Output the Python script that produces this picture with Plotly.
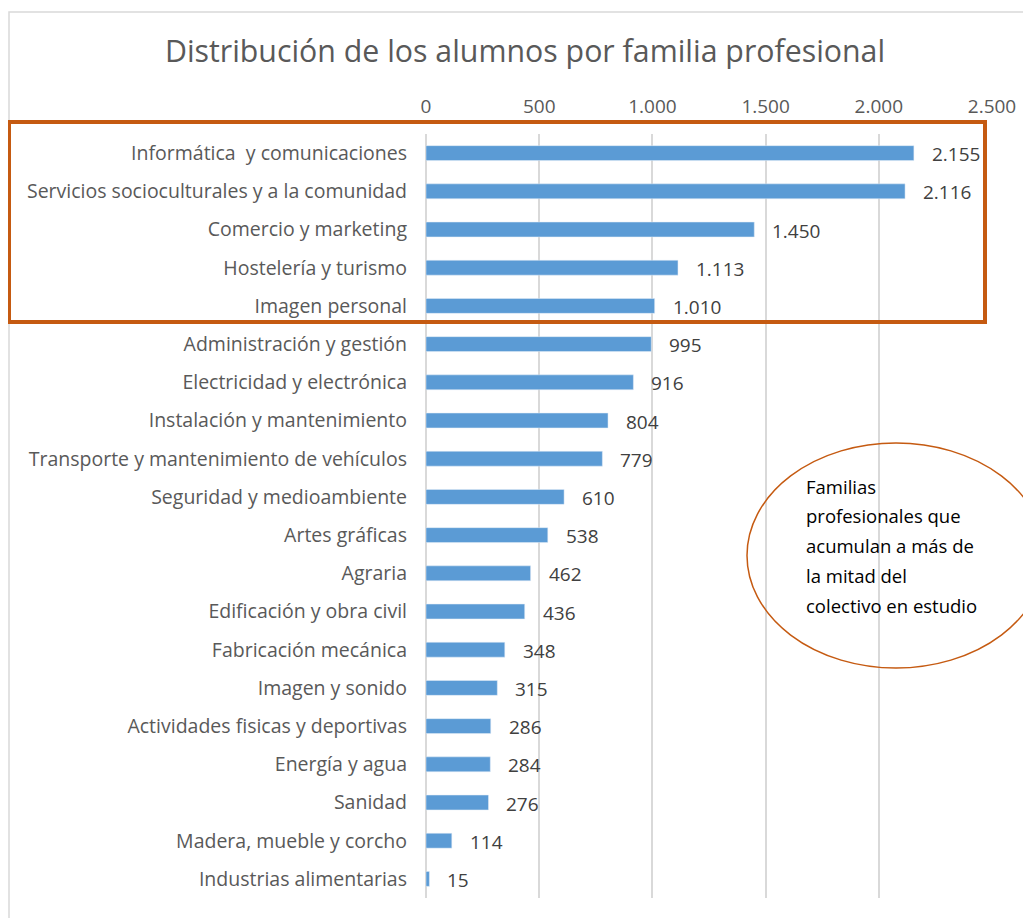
import plotly.graph_objects as go

categories = [
    "Informática  y comunicaciones",
    "Servicios socioculturales y a la comunidad",
    "Comercio y marketing",
    "Hostelería y turismo",
    "Imagen personal",
    "Administración y gestión",
    "Electricidad y electrónica",
    "Instalación y mantenimiento",
    "Transporte y mantenimiento de vehículos",
    "Seguridad y medioambiente",
    "Artes gráficas",
    "Agraria",
    "Edificación y obra civil",
    "Fabricación mecánica",
    "Imagen y sonido",
    "Actividades fisicas y deportivas",
    "Energía y agua",
    "Sanidad",
    "Madera, mueble y corcho",
    "Industrias alimentarias",
]
values = [2155, 2116, 1450, 1113, 1010, 995, 916, 804, 779, 610,
          538, 462, 436, 348, 315, 286, 284, 276, 114, 15]
tick_vals = [0, 500, 1000, 1500, 2000, 2500]
ellipse_lines = ["Familias", "profesionales que", "acumulan a más de",
                 "la mitad del", "colectivo en estudio"]

# page offset (browser body margin)
OFF = 8
W, H = 1031 - OFF, 918 - OFF
# plot area in page pixels
PL, PR, PT, PB = 426, 992, 134, 898
L, R, T, B = PL - OFF, W - (PR - OFF), PT - OFF, H - (PB - OFF)
pw, ph = W - L - R, H - T - B


def px(x):
    return (x - OFF - L) / pw


def py(y):
    return (H - B - (y - OFF)) / ph


FONT = "Open Sans"
GRAY = "#595959"
ORANGE = "#C55A11"

fig = go.Figure(go.Bar(
    x=values, y=categories, orientation="h",
    marker_color="#5B9BD5", width=0.39,
    hoverinfo="x+y",
))

annotations = []
for c, v in zip(categories, values):
    annotations.append(dict(
        x=v, y=c, xref="x", yref="y", text=f"{v:,}".replace(",", "."),
        showarrow=False, xanchor="left", xshift=16, yshift=-1,
        font=dict(family=FONT, size=19, color="#404040"),
    ))

for i, line in enumerate(ellipse_lines):
    annotations.append(dict(
        x=px(804), y=py(486 + i * 29.8), xref="paper", yref="paper",
        text=line, showarrow=False, xanchor="left", yanchor="middle",
        font=dict(family=FONT, size=18.5, color="#000000"),
    ))

shapes = [
    dict(type="rect", xref="paper", yref="paper",
         x0=px(9), x1=px(1045), y0=py(12), y1=py(935),
         line=dict(color="#D9D9D9", width=1.5), layer="below"),
    dict(type="rect", xref="paper", yref="paper",
         x0=px(9), x1=px(985), y0=py(122), y1=py(322),
         line=dict(color=ORANGE, width=4)),
    dict(type="circle", xref="paper", yref="paper",
         x0=px(747), x1=px(1045), y0=py(443), y1=py(668),
         line=dict(color=ORANGE, width=1.5)),
]

fig.update_layout(
    width=W, height=H,
    margin=dict(l=L, r=R, t=T, b=B),
    paper_bgcolor="white", plot_bgcolor="white",
    separators=",.",
    title=dict(text="Distribución de los alumnos por familia profesional",
               x=px(525), xanchor="center", xref="paper",
               y=1 - (51 - OFF) / H, yanchor="middle",
               font=dict(family=FONT, size=30.3, color=GRAY)),
    showlegend=False,
    annotations=annotations,
    shapes=shapes,
)
fig.update_xaxes(
    side="top", range=[0, 2500], tickvals=tick_vals, tickformat=",d",
    showgrid=True, gridcolor="#D9D9D9", gridwidth=1.5,
    zeroline=True, zerolinecolor="#D9D9D9", zerolinewidth=1.5,
    showline=False, ticks="", ticklabelstandoff=16,
    tickfont=dict(family=FONT, size=19, color=GRAY),
)
fig.update_yaxes(
    autorange="reversed", showgrid=False, zeroline=False, showline=False,
    ticks="", ticklabelstandoff=18,
    tickfont=dict(family=FONT, size=19.5, color=GRAY),
)

fig.write_html("out.html")
